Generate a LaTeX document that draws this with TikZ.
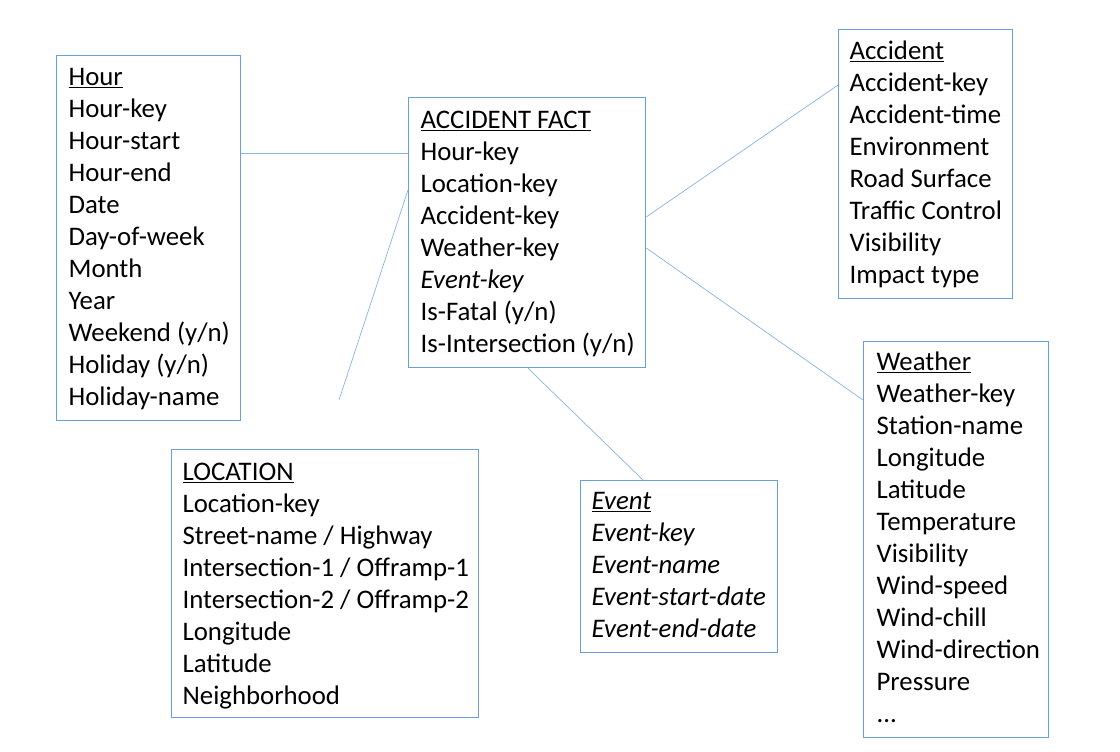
\documentclass[tikz,border=0pt]{standalone}
\usepackage{fontspec}
\setmainfont{Carlito}
\definecolor{boxblue}{RGB}{105,160,220}
\definecolor{lineblue}{RGB}{135,180,228}
\newenvironment{entbody}[4]{\begin{minipage}[t][#2][t]{#1}\fontsize{26.8pt}{32pt}\selectfont\raggedright\leftskip=#3\relax\parindent=0pt\rule{0pt}{#4}\ignorespaces}{\end{minipage}}
\begin{document}
\begin{tikzpicture}[x=1pt,y=-1pt,
  ent/.style={draw=boxblue, line width=1.2pt, inner sep=0pt, anchor=north west, fill=white},
  link/.style={draw=lineblue, line width=0.7pt}]
\useasboundingbox (0,0) rectangle (1120,752);
\node[ent] (hour) at (56,55) {\begin{entbody}{184pt}{365pt}{12pt}{30pt}\underline{Hour}\\Hour-key\\Hour-start\\Hour-end\\Date\\Day-of-week\\Month\\Year\\Weekend (y/n)\\Holiday (y/n)\\Holiday-name\end{entbody}};
\node[ent] (fact) at (408,97) {\begin{entbody}{237pt}{270pt}{12pt}{31pt}\underline{ACCIDENT FACT}\\Hour-key\\Location-key\\Accident-key\\Weather-key\\\textit{Event-key}\\Is-Fatal (y/n)\\Is-Intersection (y/n)\end{entbody}};
\node[ent] (accident) at (838,29) {\begin{entbody}{174pt}{269pt}{11pt}{30pt}\underline{Accident}\\Accident-key\\Accident-time\\Environment\\Road Surface\\Traffic Control\\Visibility\\Impact type\end{entbody}};
\node[ent] (location) at (171,449) {\begin{entbody}{307pt}{268pt}{11pt}{31pt}\underline{LOCATION}\\Location-key\\Street-name / Highway\\Intersection-1 / Offramp-1\\Intersection-2 / Offramp-2\\Longitude\\Latitude\\Neighborhood\end{entbody}};
\node[ent] (event) at (580,480) {\begin{entbody}{197pt}{172pt}{11pt}{29pt}\itshape\underline{Event}\\Event-key\\Event-name\\Event-start-date\\Event-end-date\end{entbody}};
\node[ent] (weather) at (863,341) {\begin{entbody}{185pt}{396pt}{13pt}{29pt}\underline{Weather}\\Weather-key\\Station-name\\Longitude\\Latitude\\Temperature\\Visibility\\Wind-speed\\Wind-chill\\Wind-direction\\Pressure\\...\end{entbody}};
\coordinate (locend) at (339,400);
\draw[link] ([yshift=-98pt]hour.north east) -- ([yshift=-56pt]fact.north west);
\draw[link] ([yshift=-93pt]fact.north west) -- (locend);
\draw[link] ([yshift=-120pt]fact.north east) -- ([yshift=-56pt]accident.north west);
\draw[link] ([yshift=-151pt]fact.north east) -- ([yshift=-59pt]weather.north west);
\draw[link] ([xshift=120pt]fact.south west) -- ([xshift=63pt]event.north west);
\end{tikzpicture}
\end{document}
